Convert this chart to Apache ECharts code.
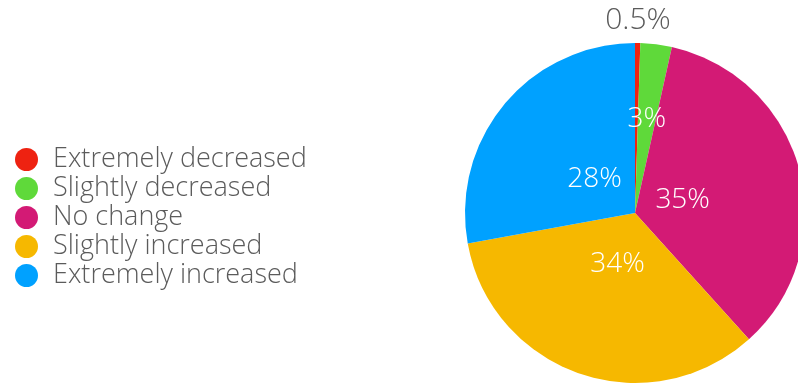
<!DOCTYPE html>
<html>
<head>
<meta charset="utf-8">
<script src="https://cdn.jsdelivr.net/npm/echarts@6/dist/echarts.min.js"></script>
<style>
  html, body { margin: 0; padding: 0; background: #fff; }
  #chart { width: 798px; height: 385px; }
</style>
</head>
<body>
<div id="chart"></div>
<script>
// Share of responses per change category
const categories = ['Extremely decreased', 'Slightly decreased', 'No change', 'Slightly increased', 'Extremely increased'];
const values = [0.5, 3, 35, 34, 28];
const valueLabels = ['0.5%', '3%', '35%', '34%', '28%'];

const colors = ['#EE2211', '#5FD93A', '#D31A75', '#F6B800', '#00A1FF'];
const FONT = '"Open Sans", sans-serif';

const cx = 635, cy = 213, R = 170;
// radial distance of each value label, as a fraction of the pie radius
const labelDist = [1.135, 0.56, 0.29, 0.32, 0.31];

const total = values.reduce((a, b) => a + b, 0);
let acc = 0;
const midAngles = values.map(v => {
  const m = (acc + v / 2) / total * Math.PI * 2;
  acc += v;
  return m;
});

const chart = echarts.init(document.getElementById('chart'), null, { renderer: 'canvas' });
chart.setOption({
  animation: false,
  color: colors,
  legend: {
    orient: 'vertical',
    left: 10,
    top: 141,
    icon: 'circle',
    itemWidth: 23,
    itemHeight: 23,
    itemGap: 2,
    textStyle: { fontFamily: FONT, fontSize: 27, fontWeight: 300, lineHeight: 23, color: '#5b5b5b', padding: [0, 0, 0, 10] },
    data: categories
  },
  series: [{
    type: 'pie',
    center: [cx, cy],
    radius: R,
    startAngle: 90,
    clockwise: true,
    avoidLabelOverlap: false,
    label: {
      show: true,
      position: 'inside',
      fontFamily: FONT,
      fontSize: 28,
      fontWeight: 300,
      color: '#ffffff',
      formatter: p => valueLabels[p.dataIndex]
    },
    labelLine: { show: false },
    labelLayout: function (params) {
      const i = params.dataIndex;
      const r = R * labelDist[i];
      const a = midAngles[i];
      return {
        x: cx + r * Math.sin(a),
        y: cy - r * Math.cos(a),
        align: 'center',
        verticalAlign: 'middle'
      };
    },
    data: categories.map((name, i) => ({
      name,
      value: values[i],
      label: i === 0 ? { color: '#5b5b5b', fontSize: 30 } : undefined
    }))
  }]
});
</script>
</body>
</html>
